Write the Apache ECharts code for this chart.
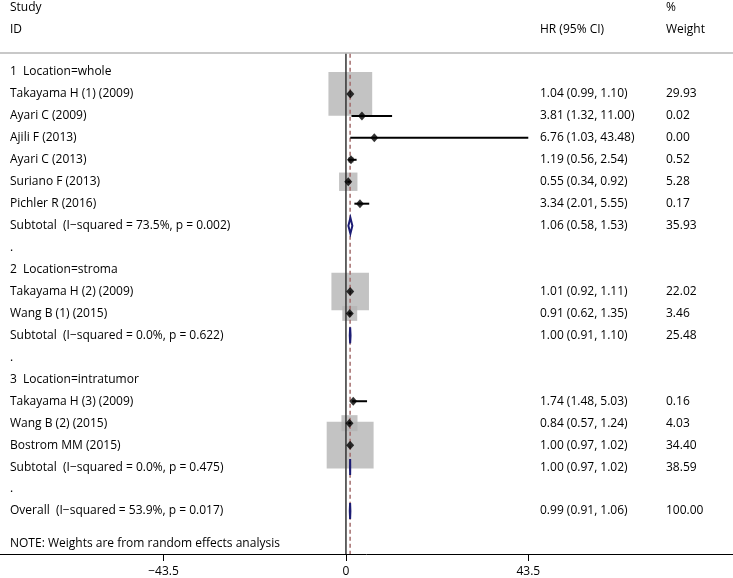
<!DOCTYPE html>
<html><head><meta charset="utf-8">
<script src="https://cdn.jsdelivr.net/npm/echarts@6/dist/echarts.min.js"></script>
<style>html,body{margin:0;padding:0;background:#fff}#c{width:733px;height:578px}</style>
</head><body><div id="c"></div>
<script>
// ---- data ----
const rowLabels = [
  '1  Location=whole',
  'Takayama H (1) (2009)',
  'Ayari C (2009)',
  'Ajili F (2013)',
  'Ayari C (2013)',
  'Suriano F (2013)',
  'Pichler R (2016)',
  'Subtotal  (I\u2212squared = 73.5%, p = 0.002)',
  '.',
  '2  Location=stroma',
  'Takayama H (2) (2009)',
  'Wang B (1) (2015)',
  'Subtotal  (I\u2212squared = 0.0%, p = 0.622)',
  '.',
  '3  Location=intratumor',
  'Takayama H (3) (2009)',
  'Wang B (2) (2015)',
  'Bostrom MM (2015)',
  'Subtotal  (I\u2212squared = 0.0%, p = 0.475)',
  '.',
  'Overall  (I\u2212squared = 53.9%, p = 0.017)'
];
const rowKind = ['head','study','study','study','study','study','study','pool','blank',
  'head','study','study','pool','blank',
  'head','study','study','study','pool','blank','pool'];
const estimate = [null,1.04,3.81,6.76,1.19,0.55,3.34,1.06,null,null,1.01,0.91,1.00,null,null,1.74,0.84,1.00,1.00,null,0.99];
const lower    = [null,0.99,1.32,1.03,0.56,0.34,2.01,0.58,null,null,0.92,0.62,0.91,null,null,1.48,0.57,0.97,0.97,null,0.91];
const upper    = [null,1.10,11.00,43.48,2.54,0.92,5.55,1.53,null,null,1.11,1.35,1.10,null,null,5.03,1.24,1.02,1.02,null,1.06];
const weight   = [null,29.93,0.02,0.00,0.52,5.28,0.17,35.93,null,null,22.02,3.46,25.48,null,null,0.16,4.03,34.40,38.59,null,100.00];
const hrText = rowKind.map((k,i)=> estimate[i]==null ? '' :
  estimate[i].toFixed(2)+' ('+lower[i].toFixed(2)+', '+upper[i].toFixed(2)+')');
const weightText = weight.map(w => w==null ? '' : w.toFixed(2));
const xTicks = [-43.5, 0, 43.5];
const overallEstimate = 0.99;
const noteText = 'NOTE: Weights are from random effects analysis';

// ---- chart ----
const FONT = '"Open Sans", sans-serif';
const FS = 12;
const chart = echarts.init(document.getElementById('c'));
const studyIdx = rowKind.map((k,i)=>k==='study'?i:-1).filter(i=>i>=0);
const poolIdx = rowKind.map((k,i)=>k==='pool'?i:-1).filter(i=>i>=0);
const Y0 = -0.83, Y1 = 21.96;

chart.setOption({
  animation:false,
  grid:{left:0,right:0,top:0,bottom:24},
  xAxis:{type:'value',min:-82.5,max:92.3,
    axisLine:{show:true,onZero:false,lineStyle:{color:'#000',width:1}},
    axisTick:{show:true,customValues:xTicks,length:7,lineStyle:{color:'#000'}},
    axisLabel:{show:true,customValues:xTicks,margin:12,color:'#000',fontFamily:FONT,fontSize:FS,
      formatter:v=>v<0?'\u2212'+Math.abs(v):String(v)},
    splitLine:{show:false}},
  yAxis:{type:'value',inverse:true,min:-3.28,max:Y1,show:false},
  graphic:[
    {type:'line',shape:{x1:0,y1:53,x2:733,y2:53},style:{stroke:'#c8c8c8',lineWidth:2}},
    {type:'text',x:10,y:8,style:{text:'Study',font:FS+'px '+FONT,fill:'#000',verticalAlign:'middle'}},
    {type:'text',x:10,y:30,style:{text:'ID',font:FS+'px '+FONT,fill:'#000',verticalAlign:'middle'}},
    {type:'text',x:540,y:30,style:{text:'HR (95% CI)',font:FS+'px '+FONT,fill:'#000',verticalAlign:'middle'}},
    {type:'text',x:666,y:8,style:{text:'%',font:FS+'px '+FONT,fill:'#000',verticalAlign:'middle'}},
    {type:'text',x:666,y:30,style:{text:'Weight',font:FS+'px '+FONT,fill:'#000',verticalAlign:'middle'}}
  ],
  series:[
    {type:'scatter',symbol:'rect',silent:true,z:2,
      data:studyIdx.map(i=>[estimate[i],i,weight[i]]),
      symbolSize:v=>8*Math.sqrt(v[2]),
      itemStyle:{color:'#b4b4b4'}},
    {type:'line',data:[[0,Y0],[0,Y1]],symbol:'none',z:3,lineStyle:{color:'#333',width:1.5}},
    {type:'line',data:[[overallEstimate,Y0],[overallEstimate,Y1]],symbol:'none',z:3,
      lineStyle:{color:'#a36c6c',width:1.5,type:[4,3]}},
    {type:'custom',z:4,silent:true,
      data:studyIdx.map(i=>[lower[i],upper[i],i]),
      renderItem:(p,api)=>{
        const a=api.coord([api.value(0),api.value(2)]), b=api.coord([api.value(1),api.value(2)]);
        return {type:'line',shape:{x1:a[0],y1:a[1],x2:b[0],y2:b[1]},style:{stroke:'#000',lineWidth:2}};
      }},
    {type:'scatter',symbol:'diamond',silent:true,z:5,symbolSize:[8,9],
      data:studyIdx.map(i=>[estimate[i],i]),itemStyle:{color:'#000'}},
    {type:'custom',z:5,silent:true,
      data:poolIdx.map(i=>[lower[i],estimate[i],upper[i],i]),
      renderItem:(p,api)=>{
        const r=api.value(3);
        const l=api.coord([api.value(0),r]), m=api.coord([api.value(1),r]), h=api.coord([api.value(2),r]);
        const hh=8;
        return {type:'polygon',shape:{points:[[l[0],l[1]],[m[0],m[1]-hh],[h[0],h[1]],[m[0],m[1]+hh]]},
          style:{fill:'#fff',stroke:'#1c1c74',lineWidth:2}};
      }},
    {type:'custom',z:6,silent:true,
      data:rowLabels.map((t,i)=>[0,i]),
      renderItem:(p,api)=>{
        const i=p.dataIndex;
        const y=api.coord([0,api.value(1)])[1];
        const st={font:FS+'px '+FONT,fill:'#000',verticalAlign:'middle'};
        return {type:'group',children:[
          {type:'text',x:10,y:y,style:Object.assign({text:rowLabels[i]},st)},
          {type:'text',x:540,y:y,style:Object.assign({text:hrText[i]},st)},
          {type:'text',x:666,y:y,style:Object.assign({text:weightText[i]},st)}
        ]};
      }},
    {type:'custom',z:6,silent:true,data:[[0,21.5]],
      renderItem:(p,api)=>{
        const y=api.coord([0,api.value(1)])[1];
        return {type:'text',x:10,y:y,style:{text:noteText,font:FS+'px '+FONT,fill:'#000',verticalAlign:'middle'}};
      }}
  ]
});
</script></body></html>
